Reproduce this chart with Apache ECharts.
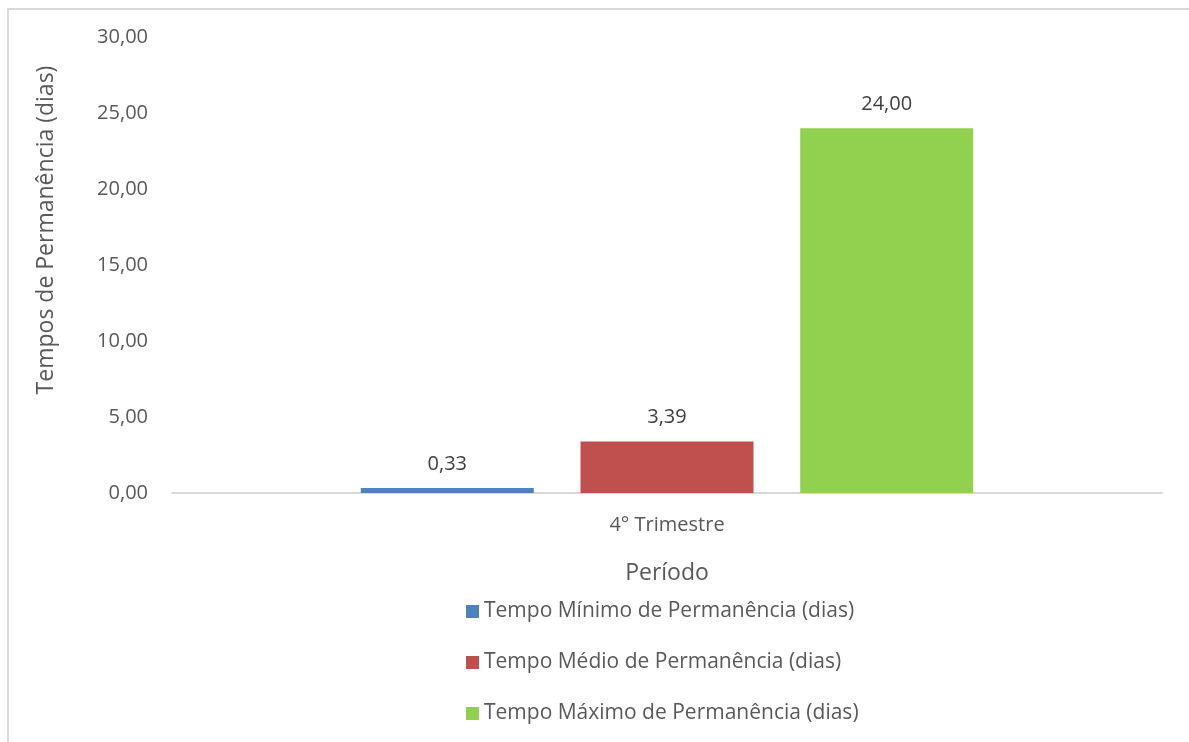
<!DOCTYPE html>
<html>
<head>
<meta charset="utf-8">
<script src="https://cdn.jsdelivr.net/npm/echarts@6/dist/echarts.min.js"></script>
<style>
  html, body { margin: 0; padding: 0; background: #fff; }
  #frame { position: absolute; left: 7px; top: 8px; width: 1300px; height: 800px; border: 2px solid #d9d9d9; }
  #chart { position: absolute; left: 0; top: 0; width: 1189px; height: 742px; }
</style>
</head>
<body>
<div id="frame"></div>
<div id="chart"></div>
<script>
const categories = ['4° Trimestre']
const seriesNames = [
  'Tempo Mínimo de Permanência (dias)',
  'Tempo Médio de Permanência (dias)',
  'Tempo Máximo de Permanência (dias)'
]
const minValues = [0.33]
const avgValues = [3.39]
const maxValues = [24.00]
const colors = ['#4F81BD', '#C0504D', '#92D050']

const font = '"Open Sans", "Noto Sans", sans-serif'
const fmt = v => v.toFixed(2).replace('.', ',')

const chart = echarts.init(document.getElementById('chart'))

const makeSeries = (name, data, i) => ({
  name,
  type: 'bar',
  data,
  barWidth: 173,
  barGap: '27%',
  itemStyle: { color: colors[i] },
  label: {
    show: true,
    position: 'top',
    distance: 14,
    color: '#404040',
    fontSize: 20,
    fontFamily: font,
    formatter: p => fmt(p.value)
  }
})

chart.setOption({
  animation: false,
  textStyle: { fontFamily: font },
  grid: { left: 172, right: 27, top: 37, bottom: 249, containLabel: false },
  legend: {
    orient: 'vertical',
    left: 461,
    top: 596,
    itemWidth: 13,
    itemHeight: 13,
    itemGap: 30,
    icon: 'rect',
    textStyle: { color: '#595959', fontSize: 21, fontFamily: font },
    data: seriesNames
  },
  xAxis: {
    type: 'category',
    data: categories,
    name: 'Período',
    nameLocation: 'middle',
    nameGap: 69,
    nameTextStyle: { color: '#595959', fontSize: 23, fontFamily: font },
    axisLine: { lineStyle: { color: '#d9d9d9', width: 2 } },
    axisTick: { show: false },
    axisLabel: { color: '#595959', fontSize: 20, margin: 22, fontFamily: font }
  },
  yAxis: {
    type: 'value',
    min: 0,
    max: 30,
    interval: 5,
    name: 'Tempos de Permanência (dias)',
    nameLocation: 'middle',
    nameGap: 114,
    nameTextStyle: { color: '#595959', fontSize: 23, fontFamily: font, padding: [0, 0, 0, 70] },
    splitLine: { show: false },
    axisLine: { show: false },
    axisTick: { show: false },
    axisLabel: { color: '#595959', fontSize: 20, margin: 24, fontFamily: font, formatter: v => fmt(v) }
  },
  series: [
    makeSeries(seriesNames[0], minValues, 0),
    makeSeries(seriesNames[1], avgValues, 1),
    makeSeries(seriesNames[2], maxValues, 2)
  ]
})
</script>
</body>
</html>
